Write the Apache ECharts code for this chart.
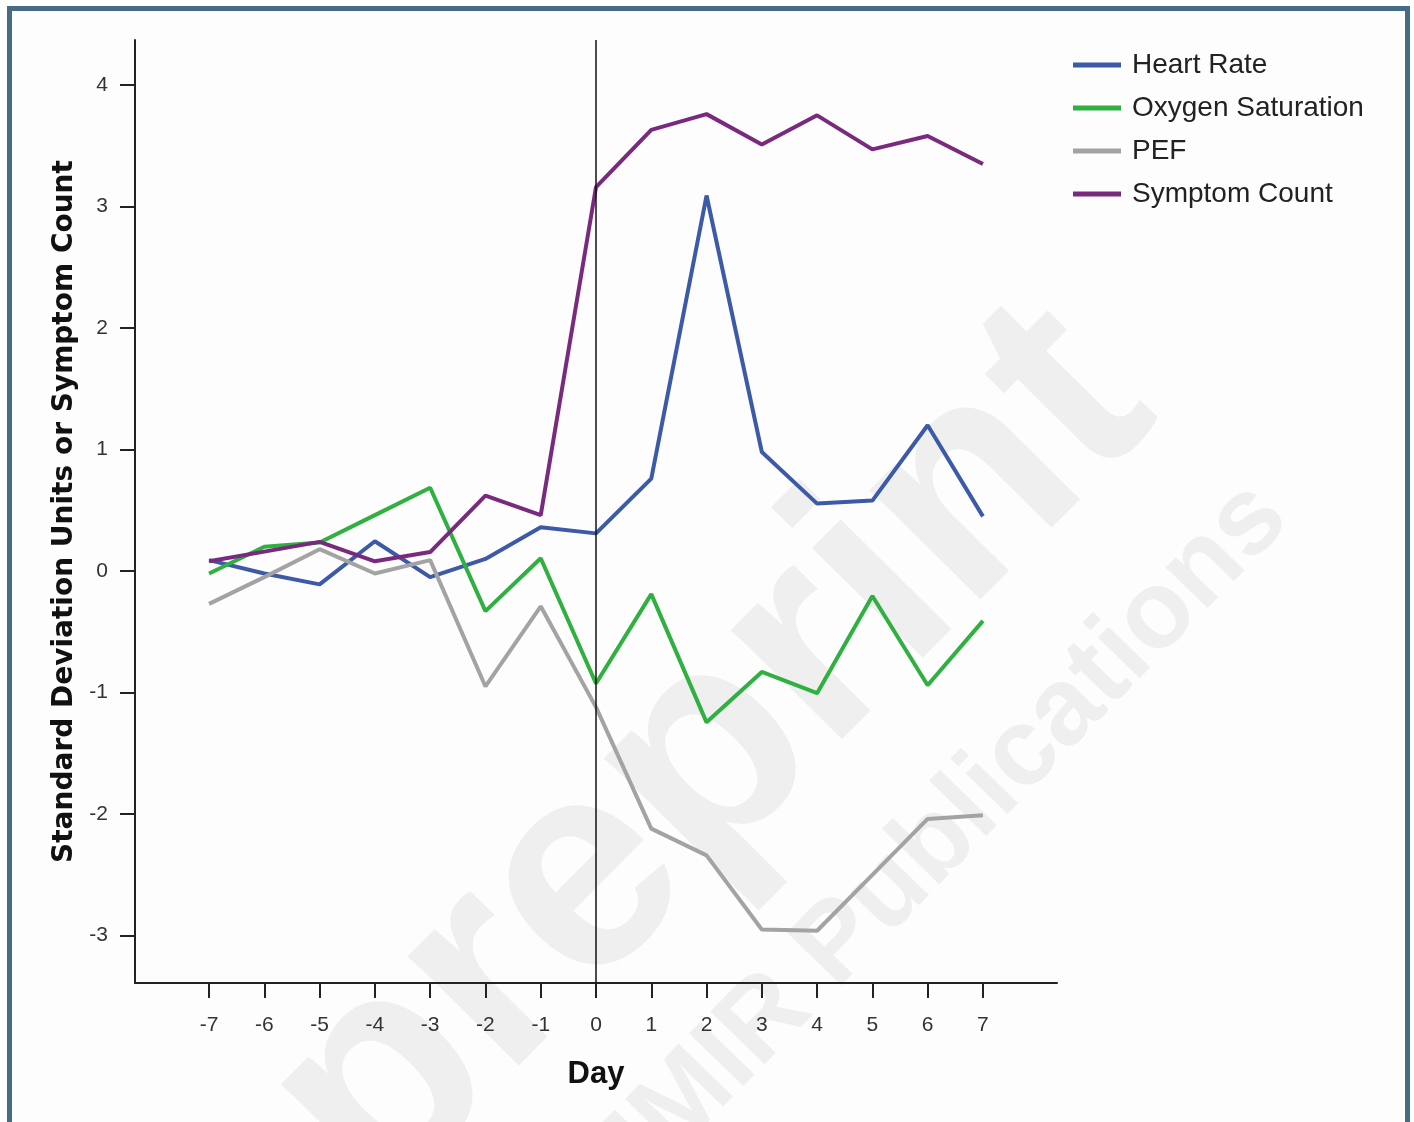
<!DOCTYPE html>
<html><head><meta charset="utf-8">
<script src="https://cdn.jsdelivr.net/npm/echarts@6/dist/echarts.min.js"></script>
<style>
html,body{margin:0;padding:0;background:#ffffff;overflow:hidden;}
#frame{position:absolute;left:7px;top:6px;width:1393px;height:1200px;border:5px solid #456b85;background:#fdfdfd;}
#chart{position:absolute;left:0;top:0;width:1414px;height:1122px;}
</style></head><body>
<div id="frame"></div>
<div id="chart"></div>
<script>
const days = [-7,-6,-5,-4,-3,-2,-1,0,1,2,3,4,5,6,7];
const heartRate = [0.09,-0.02,-0.11,0.245,-0.05,0.10,0.36,0.31,0.76,3.09,0.98,0.555,0.58,1.20,0.45];
const oxygenSaturation = [-0.02,0.20,0.235,0.46,0.685,-0.33,0.105,-0.925,-0.19,-1.245,-0.83,-1.005,-0.205,-0.94,-0.41];
const pef = [-0.27,-0.05,0.18,-0.02,0.09,-0.95,-0.29,-1.12,-2.12,-2.34,-2.95,-2.96,-2.5,-2.04,-2.01];
const symptomCount = [0.08,0.16,0.24,0.08,0.156,0.62,0.46,3.16,3.63,3.76,3.51,3.75,3.47,3.58,3.35];
const yTicks = [-3,-2,-1,0,1,2,3,4];
const xTicks = [-7,-6,-5,-4,-3,-2,-1,0,1,2,3,4,5,6,7];
const seriesNames = ['Heart Rate','Oxygen Saturation','PEF','Symptom Count'];
const seriesColors = ['#3d5aa8','#30b040','#a3a3a3','#7a2a7e'];
const seriesValues = [heartRate, oxygenSaturation, pef, symptomCount];

const chart = echarts.init(document.getElementById('chart'), null, {renderer:'canvas'});
const FONT = '"Liberation Sans", Arial, sans-serif';
const series = seriesNames.map((name, i) => {
  const s = {
    name: name,
    type: 'line',
    data: days.map((d, k) => [d, seriesValues[i][k]]),
    showSymbol: false,
    symbol: 'none',
    lineStyle: {color: seriesColors[i], width: 4},
    itemStyle: {color: seriesColors[i]},
    z: 3,
    animation: false
  };
  if (i === 0) {
    s.markLine = {
      silent: true, symbol: 'none', animation: false,
      label: {show: false},
      lineStyle: {color: '#111111', width: 1.5, type: 'solid'},
      data: [{xAxis: 0}]
    };
  }
  return s;
});

chart.setOption({
  backgroundColor: 'transparent',
  animation: false,
  graphic: [
    {type:'text', x:712, y:755, rotation:0.79, z:0, silent:true,
     style:{text:'preprint', font:'bold 295px ' + FONT, fill:'#efefef', textAlign:'center', textVerticalAlign:'middle'}},
    {type:'text', x:940, y:840, rotation:0.80, z:0, silent:true,
     style:{text:'JMIR Publications', font:'bold 110px ' + FONT, fill:'#efefef', textAlign:'center', textVerticalAlign:'middle'}}
  ],
  grid: {left:135, right:357, top:40, bottom:139, containLabel:false},
  legend: {
    orient: 'vertical', left: 1068, top: 46,
    itemWidth: 48, itemHeight: 5, itemGap: 15, icon: 'rect',
    textStyle: {fontFamily: FONT, fontSize: 28, color: '#222', padding:[0,0,0,6]},
    data: seriesNames
  },
  xAxis: {
    type: 'value', min: -8.34, max: 8.34,
    name: 'Day', nameLocation: 'middle', nameGap: 76,
    nameTextStyle: {fontFamily: FONT, fontSize: 31, fontWeight: 'bold', color: '#111'},
    axisLine: {show: true, onZero: false, lineStyle: {color: '#222', width: 2}},
    axisTick: {show: true, length: 15, customValues: xTicks, lineStyle: {color: '#222', width: 2}},
    axisLabel: {customValues: xTicks, margin: 32, fontFamily: FONT, fontSize: 21, color: '#333'},
    splitLine: {show: false}
  },
  yAxis: {
    type: 'value', min: -3.39, max: 4.37,
    name: 'Standard Deviation Units or Symptom Count', nameLocation: 'middle', nameGap: 53,
    nameTextStyle: {fontFamily: '"DejaVu Sans", sans-serif', fontSize: 28, fontWeight: 'bold', color: '#111'},
    axisLine: {show: true, onZero: false, lineStyle: {color: '#222', width: 2}},
    axisTick: {show: true, length: 15, customValues: yTicks, lineStyle: {color: '#222', width: 2}},
    axisLabel: {customValues: yTicks, margin: 27, fontFamily: FONT, fontSize: 21, color: '#333'},
    splitLine: {show: false}
  },
  series: series
});
</script>
</body></html>
